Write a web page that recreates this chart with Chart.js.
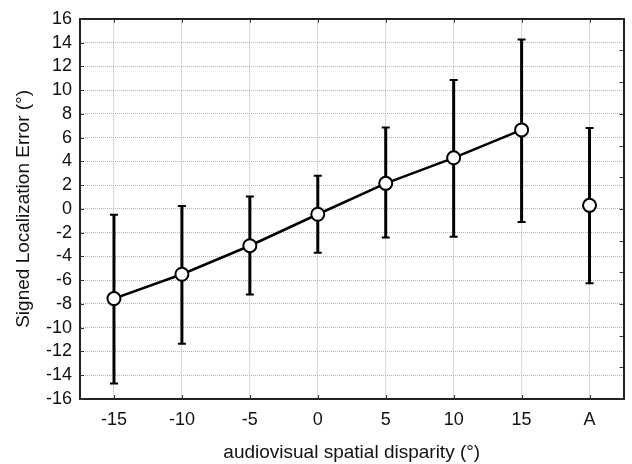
<!DOCTYPE html>
<html>
<head>
<meta charset="utf-8">
<script src="https://cdn.jsdelivr.net/npm/chart.js@4"></script>
<style>
  html, body { margin: 0; padding: 0; background: #fff; }
  #wrap { width: 632px; height: 464px; }
</style>
</head>
<body>
<div id="wrap"><canvas id="chart" width="632" height="464"></canvas></div>
<script>
// disparity conditions (A = auditory only)
const categories = ["-15", "-10", "-5", "0", "5", "10", "15", "A"];
const meanError = [-7.55, -5.5, -3.1, -0.45, 2.15, 4.3, 6.65, 0.3];
const upperError = [-0.5, 0.25, 1.05, 2.8, 6.85, 10.85, 14.25, 6.8];
const lowerError = [-14.7, -11.35, -7.2, -3.7, -2.4, -2.35, -1.1, -6.25];
const yTicks = [-16, -14, -12, -10, -8, -6, -4, -2, 0, 2, 4, 6, 8, 10, 12, 14, 16];

const lineData = meanError.map((v, i) => categories[i] === "A" ? null : v);
const aloneData = meanError.map((v, i) => categories[i] === "A" ? v : null);

const errorBars = {
  id: "errorBars",
  beforeDatasetsDraw(chart) {
    const ctx = chart.ctx;
    const x = chart.scales.x, y = chart.scales.y;
    ctx.save();
    ctx.strokeStyle = "#000";
    categories.forEach((c, i) => {
      const px = x.getPixelForValue(i);
      const top = y.getPixelForValue(upperError[i]);
      const bot = y.getPixelForValue(lowerError[i]);
      ctx.lineWidth = 3;
      ctx.beginPath();
      ctx.moveTo(px, top); ctx.lineTo(px, bot);
      ctx.stroke();
      ctx.lineWidth = 2;
      ctx.beginPath();
      ctx.moveTo(px - 4, top); ctx.lineTo(px + 4, top);
      ctx.moveTo(px - 4, bot); ctx.lineTo(px + 4, bot);
      ctx.stroke();
    });
    ctx.restore();
  },
  afterDatasetsDraw(chart) {
    // small inward tick marks on the frame
    const ctx = chart.ctx;
    const a = chart.chartArea;
    const x = chart.scales.x, y = chart.scales.y, y2 = chart.scales.y2;
    ctx.save();
    ctx.strokeStyle = "#333";
    ctx.lineWidth = 1;
    ctx.beginPath();
    categories.forEach((c, i) => {
      const px = Math.round(x.getPixelForValue(i)) + 0.5;
      ctx.moveTo(px, a.bottom); ctx.lineTo(px, a.bottom - 4);
      ctx.moveTo(px, a.top); ctx.lineTo(px, a.top + 4);
    });
    yTicks.forEach(v => {
      const py = Math.round(y.getPixelForValue(v)) + 0.5;
      ctx.moveTo(a.left, py); ctx.lineTo(a.left + 4, py);
    });
    for (let k = 0; k <= 12; k++) {
      const py = Math.round(y2.getPixelForValue(k)) + 0.5;
      ctx.moveTo(a.right, py); ctx.lineTo(a.right - 4, py);
    }
    ctx.stroke();
    ctx.restore();
  }
};

const tickFont = { family: "'Liberation Sans', Arial, sans-serif", size: 18 };
const titleFont = { family: "'Liberation Sans', Arial, sans-serif", size: 19 };

new Chart(document.getElementById("chart"), {
  type: "line",
  data: {
    labels: categories,
    datasets: [
      {
        data: lineData,
        borderColor: "#000",
        borderWidth: 2.5,
        pointRadius: 6.5,
        pointBorderWidth: 2,
        pointBackgroundColor: "#fff",
        pointBorderColor: "#000",
        tension: 0,
        spanGaps: false
      },
      {
        data: aloneData,
        showLine: false,
        borderColor: "#000",
        pointRadius: 6.5,
        pointBorderWidth: 2,
        pointBackgroundColor: "#fff",
        pointBorderColor: "#000"
      }
    ]
  },
  options: {
    responsive: false,
    animation: false,
    events: [],
    layout: { padding: { top: 15, right: 4, left: 0, bottom: 0 } },
    plugins: { legend: { display: false }, tooltip: { enabled: false } },
    scales: {
      x: {
        type: "category",
        offset: true,
        grid: { color: "#b4b4b4", lineWidth: 1, offset: false, drawTicks: false },
        border: { display: true, color: "#222", width: 2, dash: [1, 1] },
        ticks: { color: "#111", font: tickFont, padding: 10, autoSkip: false, maxRotation: 0 },
        title: {
          display: true,
          text: "audiovisual spatial disparity (°)",
          color: "#111",
          font: titleFont,
          padding: { top: 6, bottom: 0 }
        },
        afterFit(s) { s.height = 65; }
      },
      x2: {
        type: "category",
        position: "top",
        offset: true,
        ticks: { display: false },
        grid: { display: false },
        border: { display: true, color: "#222", width: 2 },
        afterFit(s) { s.height = 0; }
      },
      y: {
        min: -16,
        max: 16,
        afterBuildTicks(s) { s.ticks = yTicks.map(v => ({ value: v })); },
        grid: { color: "#b4b4b4", lineWidth: 1, drawTicks: false },
        border: { display: true, color: "#222", width: 2, dash: [1, 1] },
        ticks: { color: "#111", font: tickFont, padding: 8, autoSkip: false },
        title: {
          display: true,
          text: "Signed Localization Error (°)",
          color: "#111",
          font: titleFont,
          padding: { top: 12, bottom: 0 }
        },
        afterFit(s) { s.width = 80; }
      },
      y2: {
        position: "right",
        min: 0,
        max: 12,
        ticks: { display: false, stepSize: 1 },
        grid: { display: false },
        border: { display: true, color: "#222", width: 2 },
        afterFit(s) { s.width = 0; }
      }
    }
  },
  plugins: [errorBars]
});
</script>
</body>
</html>
